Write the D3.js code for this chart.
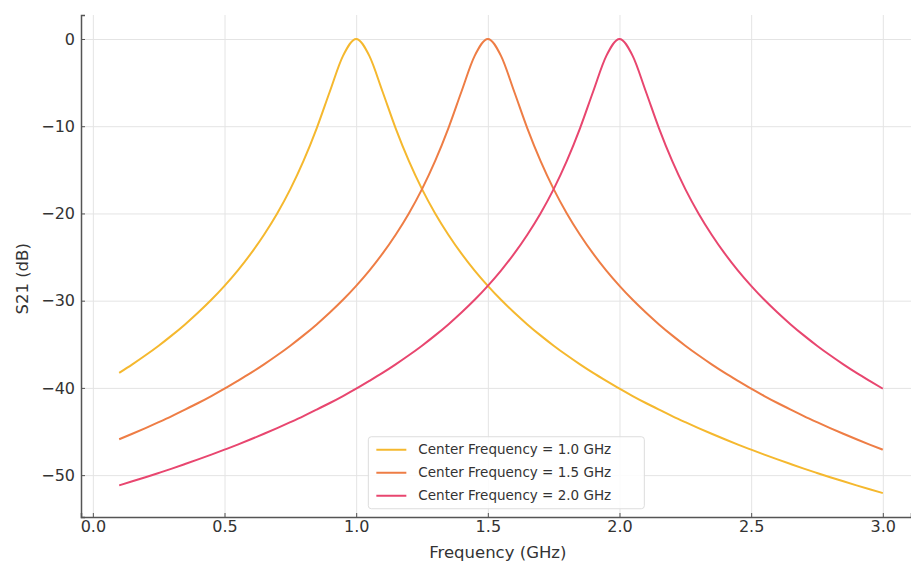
<!DOCTYPE html>
<html>
<head>
<meta charset="utf-8">
<script src="https://cdn.jsdelivr.net/npm/d3@7"></script>
<style>
  body { margin: 0; background: #fff; }
  text { font-family: "DejaVu Sans", sans-serif; fill: #333; }
  .grid line { stroke: #e4e4e4; stroke-width: 1; }
  .grid path { display: none; }
</style>
</head>
<body>
<div id="chart"></div>
<script>
const width = 911
const height = 566
const margin = { top: 15, bottom: 49, left: 81, right: 0 }

// frequency samples (GHz)
const freqs = [0.10, 0.15, 0.20, 0.25, 0.30, 0.35, 0.40, 0.45, 0.50, 0.55, 0.60, 0.65, 0.70, 0.75, 0.80, 0.85, 0.90, 0.95,
  1.00, 1.05, 1.10, 1.15, 1.20, 1.25, 1.30, 1.35, 1.40, 1.45, 1.50, 1.55, 1.60, 1.65, 1.70, 1.75, 1.80, 1.85, 1.90, 1.95,
  2.00, 2.05, 2.10, 2.15, 2.20, 2.25, 2.30, 2.35, 2.40, 2.45, 2.50, 2.55, 2.60, 2.65, 2.70, 2.75, 2.80, 2.85, 2.90, 2.95, 3.00]

const seriesNames = ["Center Frequency = 1.0 GHz", "Center Frequency = 1.5 GHz", "Center Frequency = 2.0 GHz"]
const seriesColors = ["#f5b82e", "#ee7d45", "#e8466f"]

const s21_10 = [-38.28, -37.30, -36.26, -35.16, -33.98, -32.72, -31.36, -29.90, -28.30, -26.55, -24.61, -22.44, -20.00, -17.21, -13.98, -10.24, -6.02, -1.94,
  0, -1.94, -6.02, -10.24, -13.98, -17.21, -20.00, -22.44, -24.61, -26.55, -28.30, -29.90, -31.36, -32.72, -33.98, -35.16, -36.26, -37.30, -38.28, -39.20,
  -40.09, -40.93, -41.73, -42.49, -43.23, -43.93, -44.61, -45.26, -45.89, -46.50, -47.08, -47.65, -48.20, -48.73, -49.25, -49.75, -50.24, -50.71, -51.17, -51.62, -52.06]
const s21_15 = [-45.89, -45.26, -44.61, -43.93, -43.23, -42.49, -41.73, -40.93, -40.09, -39.20, -38.28, -37.30, -36.26, -35.16, -33.98, -32.72, -31.36, -29.90,
  -28.30, -26.55, -24.61, -22.44, -20.00, -17.21, -13.98, -10.24, -6.02, -1.94, 0, -1.94, -6.02, -10.24, -13.98, -17.21, -20.00, -22.44, -24.61, -26.55,
  -28.30, -29.90, -31.36, -32.72, -33.98, -35.16, -36.26, -37.30, -38.28, -39.20, -40.09, -40.93, -41.73, -42.49, -43.23, -43.93, -44.61, -45.26, -45.89, -46.50, -47.08]
const s21_20 = [-51.17, -50.71, -50.24, -49.75, -49.25, -48.73, -48.20, -47.65, -47.08, -46.50, -45.89, -45.26, -44.61, -43.93, -43.23, -42.49, -41.73, -40.93,
  -40.09, -39.20, -38.28, -37.30, -36.26, -35.16, -33.98, -32.72, -31.36, -29.90, -28.30, -26.55, -24.61, -22.44, -20.00, -17.21, -13.98, -10.24, -6.02, -1.94,
  0, -1.94, -6.02, -10.24, -13.98, -17.21, -20.00, -22.44, -24.61, -26.55, -28.30, -29.90, -31.36, -32.72, -33.98, -35.16, -36.26, -37.30, -38.28, -39.20, -40.09]

const xTicks = [0.0, 0.5, 1.0, 1.5, 2.0, 2.5, 3.0]
const yTicks = [0, -10, -20, -30, -40, -50]

const series = [s21_10, s21_15, s21_20].map((vals, i) => ({
  name: seriesNames[i],
  color: seriesColors[i],
  points: freqs.map((f, j) => ({ f: f, v: vals[j] }))
}))

const svg = d3.select("#chart").append("svg").attr("width", width).attr("height", height)
const innerW = width - margin.left - margin.right
const innerH = height - margin.top - margin.bottom
const g = svg.append("g").attr("transform", `translate(${margin.left}, ${margin.top})`)

const x = d3.scaleLinear().domain([-0.045, 3.107]).range([0, innerW])
const y = d3.scaleLinear().domain([-54.8, 2.75]).range([innerH, 0])

// grid
g.append("g").attr("class", "grid")
  .attr("transform", `translate(0, ${innerH})`)
  .call(d3.axisBottom(x).tickValues(xTicks).tickSize(-innerH).tickFormat(""))
g.append("g").attr("class", "grid")
  .call(d3.axisLeft(y).tickValues(yTicks).tickSize(-innerW).tickFormat(""))

// lines
const line = d3.line().x(d => x(d.f)).y(d => y(d.v)).curve(d3.curveMonotoneX)
g.selectAll("path.series").data(series).enter().append("path")
  .attr("class", "series")
  .attr("fill", "none")
  .attr("stroke", d => d.color)
  .attr("stroke-width", 2)
  .attr("d", d => line(d.points))

// axes (ticks point inward, as in the original)
const xAxis = g.append("g").attr("transform", `translate(0, ${innerH})`)
  .call(d3.axisTop(x).tickValues(xTicks).tickSize(4).tickFormat(d3.format(".1f")))
xAxis.selectAll("text").attr("y", 4).attr("dy", "0.71em").style("font-size", "16px")
const yAxis = g.append("g")
  .call(d3.axisRight(y).tickValues(yTicks).tickSize(4).tickFormat(d => d < 0 ? "\u2212" + Math.abs(d) : d))
yAxis.selectAll("text").attr("x", -6).attr("text-anchor", "end").style("font-size", "16px")
for (const ax of [xAxis, yAxis]) {
  ax.select(".domain").attr("stroke", "#555").attr("stroke-width", 1.5)
  ax.selectAll(".tick line").attr("stroke", "#555")
  ax.selectAll("text").attr("fill", "#333")
}

// axis titles
svg.append("text").attr("x", margin.left + x(1.5) + 10).attr("y", 558)
  .attr("text-anchor", "middle").style("font-size", "16.5px").text("Frequency (GHz)")
svg.append("text").attr("transform", `translate(28, ${margin.top + y(-27.5)}) rotate(-90)`)
  .attr("text-anchor", "middle").style("font-size", "16.5px").text("S21 (dB)")

// legend
const legend = g.append("g").attr("transform", `translate(${x(1.05) - 1}, ${y(-45.6)})`)
legend.append("rect").attr("width", 276).attr("height", 72).attr("rx", 3)
  .attr("fill", "#fff").attr("fill-opacity", 0.85).attr("stroke", "#ddd")
const item = legend.selectAll("g.item").data(series).enter().append("g")
  .attr("class", "item").attr("transform", (d, i) => `translate(8, ${13 + i * 23})`)
item.append("line").attr("x1", 0).attr("x2", 30).attr("stroke", d => d.color).attr("stroke-width", 2)
item.append("text").attr("x", 42).attr("dy", "0.35em").style("font-size", "13.5px").text(d => d.name)
</script>
</body>
</html>
